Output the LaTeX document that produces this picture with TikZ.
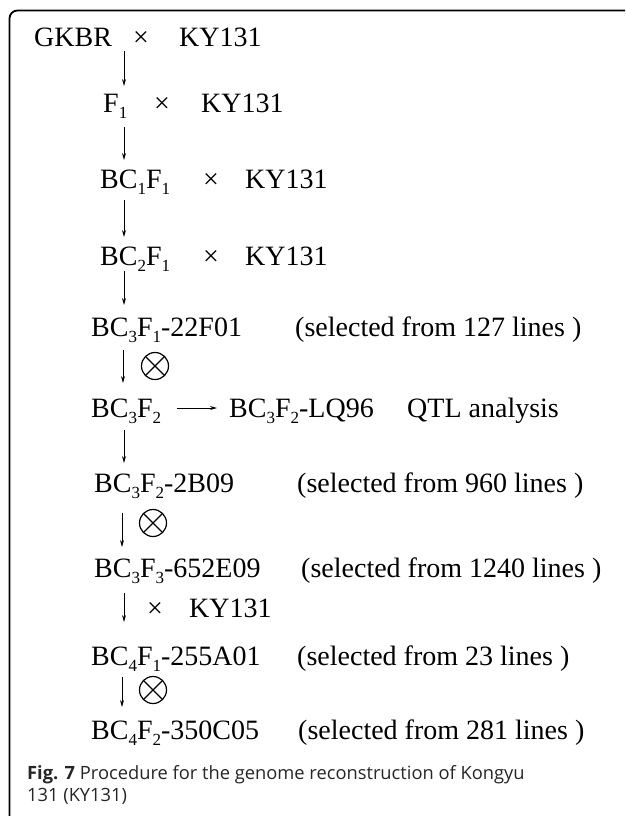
\documentclass[tikz,border=0pt]{standalone}
\usepackage{fontspec}
\setmainfont{Liberation Serif}
\newfontfamily\capfont{Open Sans}
\usetikzlibrary{arrows.meta}
\newcommand\rowfont{\fontsize{28}{30}\selectfont}
\newcommand\sbx[1]{\raisebox{-6pt}{\fontsize{17}{17}\selectfont #1}}
\tikzset{
  txt/.style={anchor=base west, inner sep=0pt, font=\rowfont},
  arr/.style={line width=0.9pt, -{Stealth[length=7pt,width=4pt]}},
  otimes/.style={circle, draw, line width=1.2pt, minimum size=27pt, inner sep=0pt,
    path picture={\draw[line width=1.2pt] (path picture bounding box.north west) -- (path picture bounding box.south east)
      (path picture bounding box.north east) -- (path picture bounding box.south west);}},
  captxt/.style={anchor=base west, inner sep=0pt, text=black!85, font=\capfont\fontsize{18.3}{22}\selectfont}
}
\begin{document}
\begin{tikzpicture}[x=1pt,y=-1pt]
\useasboundingbox (0,0) rectangle (625,816);
\fill[white] (0,0) rectangle (625,816);
\clip (0,0) rectangle (625,816);
\draw[line width=1.8pt, rounded corners=8pt] (9.5,840) -- (9.5,10.5) -- (650,10.5);

% row 1
\node[txt] (r1a) at (34,47) {GKBR};
\node[txt] (r1x) at (133,47) {×};
\node[txt] (r1b) at (179,47) {KY131};
% row 2
\node[txt] (r2a) at (103,112) {F\sbx{1}};
\node[txt] (r2x) at (154,112) {×};
\node[txt] (r2b) at (201,112) {KY131};
% row 3
\node[txt] (r3a) at (100,188) {BC\sbx{1}F\sbx{1}};
\node[txt] (r3x) at (203,188) {×};
\node[txt] (r3b) at (245,188) {KY131};
% row 4
\node[txt] (r4a) at (100,265) {BC\sbx{2}F\sbx{1}};
\node[txt] (r4x) at (203,265) {×};
\node[txt] (r4b) at (245,265) {KY131};
% row 5
\node[txt] (r5a) at (91,336) {BC\sbx{3}F\sbx{1}-22F01};
\node[txt] (r5b) at (295,336) {(selected from 127 lines )};
% row 6
\node[txt] (r6a) at (91,417) {BC\sbx{3}F\sbx{2}};
\node[txt] (r6b) at (229,417) {BC\sbx{3}F\sbx{2}-LQ96};
\node[txt] (r6c) at (407,417) {QTL analysis};
% row 7
\node[txt] (r7a) at (94,492) {BC\sbx{3}F\sbx{2}-2B09};
\node[txt] (r7b) at (297,492) {(selected from 960 lines )};
% row 8
\node[txt] (r8a) at (94,577) {BC\sbx{3}F\sbx{3}-652E09};
\node[txt] (r8b) at (301,577) {(selected from 1240 lines )};
\node[txt] (r8x) at (147,617) {×};
\node[txt] (r8c) at (189,617) {KY131};
% row 9
\node[txt] (r9a) at (91,665) {BC\sbx{4}F\sbx{1}-255A01};
\node[txt] (r9b) at (297,665) {(selected from 23 lines )};
% row 10
\node[txt] (r10a) at (91,739) {BC\sbx{4}F\sbx{2}-350C05};
\node[txt] (r10b) at (298,739) {(selected from 281 lines )};

% selfing symbols
\node[otimes] (o1) at (155,366) {};
\node[otimes] (o2) at (153,523) {};
\node[otimes] (o3) at (153,690) {};

% arrow coordinates
\coordinate (a1s) at (124,51);  \coordinate (a1e) at (124,86);
\coordinate (a2s) at (124,127); \coordinate (a2e) at (124,160);
\coordinate (a3s) at (124,200); \coordinate (a3e) at (124,237);
\coordinate (a4s) at (124,271); \coordinate (a4e) at (124,305);
\coordinate (a5s) at (123,350); \coordinate (a5e) at (123,383);
\coordinate (a6s) at (124,430); \coordinate (a6e) at (124,463);
\coordinate (a7s) at (122,513); \coordinate (a7e) at (122,547);
\coordinate (a8s) at (124,593); \coordinate (a8e) at (124,622);
\coordinate (a9s) at (122,677); \coordinate (a9e) at (122,707);
\coordinate (hs) at (177,408);  \coordinate (he) at (217,408);
\foreach \i in {1,...,9} {\draw[arr] (a\i s) -- (a\i e);}
\draw[arr] (hs) -- (he);

% caption
\node[captxt] (c1) at (27,779) {\textbf{Fig. 7} Procedure for the genome reconstruction of Kongyu};
\node[captxt] (c2) at (27,801) {131 (KY131)};
\end{tikzpicture}
\end{document}
